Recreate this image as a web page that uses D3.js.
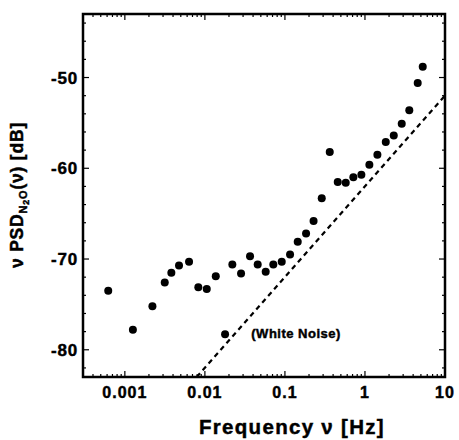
<!DOCTYPE html>
<html>
<head>
<meta charset="utf-8">
<script src="https://cdn.jsdelivr.net/npm/d3@7"></script>
<style>
  html, body { margin: 0; padding: 0; background: #fff; }
  #chart { width: 459px; height: 440px; }
  text { font-family: "Liberation Sans", Arial, sans-serif; font-weight: bold; fill: #000; stroke: #000; stroke-width: 0.45px; }
</style>
</head>
<body>
<div id="chart"></div>
<script>
'use strict';

const MARGIN = { top: 14, right: 14, bottom: 63, left: 83 };

// measured spectrum: frequency [Hz] and nu*PSD [dB]
const freqHz = [
  0.00062, 0.00126, 0.00221, 0.00315, 0.00381, 0.00475, 0.00634, 0.00828,
  0.01055, 0.01368, 0.01787, 0.02203, 0.0283, 0.03665, 0.0457, 0.0575,
  0.0716, 0.0912, 0.1159, 0.1445, 0.1837, 0.228, 0.2884, 0.363,
  0.457, 0.575, 0.716, 0.902, 1.135, 1.43, 1.82, 2.29,
  2.88, 3.58, 4.56, 5.27
];
const psdDb = [
  -73.5, -77.8, -75.2, -72.6, -71.5, -70.7, -70.3, -73.1,
  -73.3, -71.9, -78.3, -70.6, -71.6, -69.7, -70.6, -71.4,
  -70.6, -70.3, -69.5, -68.1, -67.2, -65.8, -63.3, -58.2,
  -61.5, -61.6, -61.0, -60.7, -59.6, -58.5, -57.1, -56.4,
  -55.1, -53.6, -50.6, -48.8
];

// white-noise reference (10 dB/decade)
const whiteFreq = [0.0079, 10];
const whiteDb = [-83, -52];
const whiteLabel = { f: 0.038, db: -78.7, text: '(White Noise)' };

const xTicks = [0.001, 0.01, 0.1, 1, 10];
const xTickLabels = ['0.001', '0.01', '0.1', '1', '10'];
const yTicks = [-50, -60, -70, -80];

const X_DOMAIN = [0.0003, 10];
const Y_DOMAIN = [-83, -43];

function drawChart() {
  const container = document.getElementById('chart');
  const W = 459, H = 440;
  const w = W - MARGIN.left - MARGIN.right;
  const h = H - MARGIN.top - MARGIN.bottom;

  const svg = d3.select(container).append('svg')
    .attr('width', W).attr('height', H);

  const g = svg.append('g')
    .attr('transform', `translate(${MARGIN.left},${MARGIN.top})`);

  const x = d3.scaleLog().domain(X_DOMAIN).range([0, w]);
  const y = d3.scaleLinear().domain(Y_DOMAIN).range([h, 0]);

  // minor / major ticks, pointing inward on all four sides
  const minorX = [];
  for (let e = -4; e <= 1; e++) {
    for (let m = 2; m <= 9; m++) {
      const v = m * Math.pow(10, e);
      if (v > X_DOMAIN[0] && v < X_DOMAIN[1]) minorX.push(v);
    }
  }
  const minorY = d3.range(-82, -43, 2).filter(v => v % 10 !== 0);

  const ticks = g.append('g').attr('stroke', '#000').attr('stroke-width', 1.2);
  minorX.forEach(v => {
    ticks.append('line').attr('x1', x(v)).attr('x2', x(v)).attr('y1', h).attr('y2', h - 3);
    ticks.append('line').attr('x1', x(v)).attr('x2', x(v)).attr('y1', 0).attr('y2', 3);
  });
  xTicks.forEach(v => {
    ticks.append('line').attr('x1', x(v)).attr('x2', x(v)).attr('y1', h).attr('y2', h - 6);
    ticks.append('line').attr('x1', x(v)).attr('x2', x(v)).attr('y1', 0).attr('y2', 6);
  });
  minorY.forEach(v => {
    ticks.append('line').attr('x1', 0).attr('x2', 3).attr('y1', y(v)).attr('y2', y(v));
    ticks.append('line').attr('x1', w).attr('x2', w - 3).attr('y1', y(v)).attr('y2', y(v));
  });
  yTicks.forEach(v => {
    ticks.append('line').attr('x1', 0).attr('x2', 6).attr('y1', y(v)).attr('y2', y(v));
    ticks.append('line').attr('x1', w).attr('x2', w - 6).attr('y1', y(v)).attr('y2', y(v));
  });

  // frame
  g.append('rect')
    .attr('x', 0).attr('y', 0).attr('width', w).attr('height', h)
    .attr('fill', 'none').attr('stroke', '#000').attr('stroke-width', 2.5);

  // tick labels
  g.selectAll('.xlab').data(xTicks).join('text')
    .attr('class', 'xlab')
    .attr('x', d => x(d))
    .attr('y', h + 21)
    .attr('text-anchor', 'middle')
    .attr('font-size', 16)
    .attr('letter-spacing', 1)
    .text((d, i) => xTickLabels[i]);

  g.selectAll('.ylab').data(yTicks).join('text')
    .attr('class', 'ylab')
    .attr('x', -5)
    .attr('y', d => y(d))
    .attr('dy', '0.36em')
    .attr('text-anchor', 'end')
    .attr('font-size', 17)
    .attr('letter-spacing', 0.8)
    .text(d => d);

  // white noise line
  const line = d3.line().x(d => x(d[0])).y(d => y(d[1]));
  g.append('path')
    .datum(whiteFreq.map((f, i) => [f, whiteDb[i]]))
    .attr('d', line)
    .attr('fill', 'none')
    .attr('stroke', '#000')
    .attr('stroke-width', 2.2)
    .attr('stroke-dasharray', '5,4');

  g.append('text')
    .attr('x', x(whiteLabel.f))
    .attr('y', y(whiteLabel.db))
    .attr('font-size', 13)
    .attr('letter-spacing', 0.5)
    .text(whiteLabel.text);

  // data points
  g.selectAll('.pt').data(freqHz).join('circle')
    .attr('class', 'pt')
    .attr('cx', d => x(d))
    .attr('cy', (d, i) => y(psdDb[i]))
    .attr('r', 4)
    .attr('fill', '#000');

  // axis titles
  svg.append('text')
    .attr('x', 292)
    .attr('y', 434)
    .attr('text-anchor', 'middle')
    .attr('font-size', 20.5)
    .attr('letter-spacing', 1.3)
    .text('Frequency \u03bd [Hz]');

  const yt = svg.append('text')
    .attr('transform', 'translate(23,195) rotate(-90)')
    .attr('text-anchor', 'middle')
    .attr('font-size', 17.5)
    .attr('letter-spacing', 0.8);
  yt.append('tspan').text('\u03bd PSD');
  yt.append('tspan').attr('font-size', 11).attr('dy', 4).text('N');
  yt.append('tspan').attr('font-size', 9).attr('dy', 2).text('2');
  yt.append('tspan').attr('font-size', 11).attr('dy', -2).text('O');
  yt.append('tspan').attr('dy', -4).text('(\u03bd) [dB]');
}

drawChart();
</script>
</body>
</html>
